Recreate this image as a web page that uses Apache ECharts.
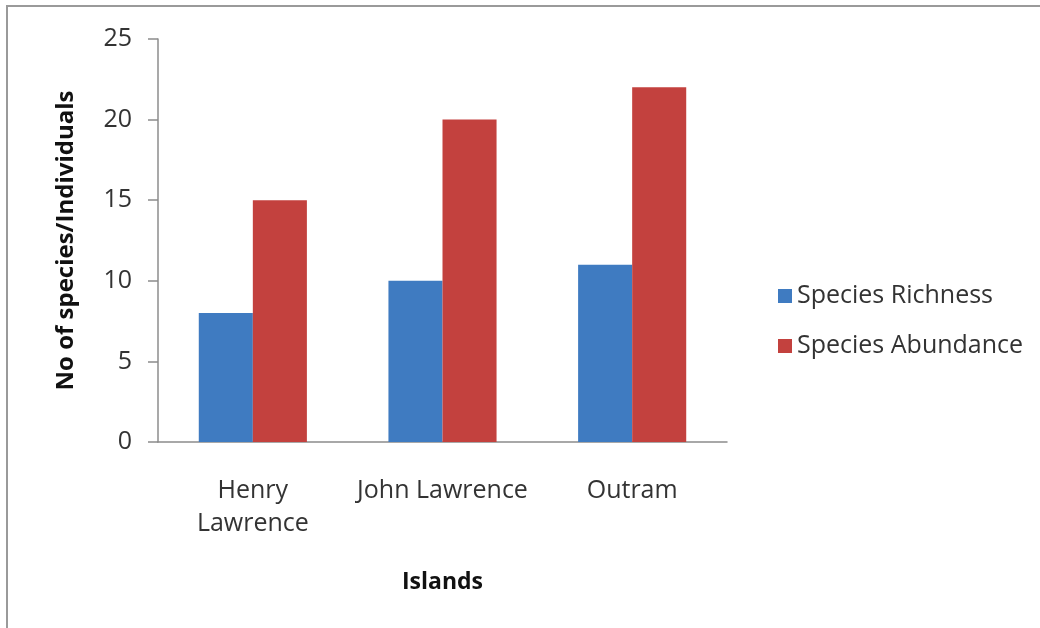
<!DOCTYPE html>
<html>
<head>
<meta charset="utf-8">
<script src="https://cdn.jsdelivr.net/npm/echarts@6/dist/echarts.min.js"></script>
<style>
  html, body { margin: 0; padding: 0; background: #fff; }
  #chart { width: 1040px; height: 628px; }
</style>
</head>
<body>
<div id="chart"></div>
<script>
// Islands surveyed and counts per island
const islands = ['Henry\nLawrence', 'John Lawrence', 'Outram'];
const speciesRichness = [8, 10, 11];
const speciesAbundance = [15, 20, 22];
const yTicks = { min: 0, max: 25, interval: 5 };

const FONT = '"Open Sans", "Noto Sans", sans-serif';
const AXIS_GRAY = '#8c8c8c';

const chart = echarts.init(document.getElementById('chart'), null, { renderer: 'canvas' });

chart.setOption({
  animation: false,
  backgroundColor: '#fff',
  textStyle: { fontFamily: FONT },
  graphic: [{
    type: 'rect',
    shape: { x: 7, y: 6, width: 1200, height: 800 },
    style: { fill: 'none', stroke: '#9a9a9a', lineWidth: 2 },
    silent: true
  }],
  grid: { left: 158, right: 313, top: 39, bottom: 186, containLabel: false },
  legend: {
    orient: 'vertical',
    left: 773,
    top: 276,
    itemWidth: 14,
    itemHeight: 14,
    itemGap: 20,
    icon: 'rect',
    textStyle: { fontFamily: FONT, fontSize: 25, color: '#333', lineHeight: 30 },
    data: ['Species Richness', 'Species Abundance']
  },
  xAxis: {
    type: 'category',
    data: islands,
    name: 'Islands',
    nameLocation: 'middle',
    nameGap: 129,
    nameTextStyle: { fontFamily: FONT, fontSize: 23, fontWeight: 'bold', color: '#111' },
    axisLine: { lineStyle: { color: AXIS_GRAY, width: 1.5 } },
    axisTick: { show: false },
    axisLabel: { fontFamily: FONT, fontSize: 25, color: '#333', margin: 32, lineHeight: 33, interval: 0 },
    splitLine: { show: false }
  },
  yAxis: {
    type: 'value',
    min: yTicks.min,
    max: yTicks.max,
    interval: yTicks.interval,
    name: 'No of species/Individuals',
    nameLocation: 'middle',
    nameGap: 80,
    nameRotate: 90,
    nameTextStyle: { fontFamily: FONT, fontSize: 24, fontWeight: 'bold', color: '#111' },
    axisLine: { show: true, lineStyle: { color: AXIS_GRAY, width: 1.5 } },
    axisTick: { show: true, length: 10, lineStyle: { color: AXIS_GRAY, width: 1.5 } },
    axisLabel: { fontFamily: FONT, fontSize: 25, color: '#333', margin: 26 },
    splitLine: { show: false }
  },
  series: [
    {
      name: 'Species Richness',
      type: 'bar',
      data: speciesRichness,
      barGap: '0%',
      barCategoryGap: '43%',
      itemStyle: { color: '#3F7BC1' }
    },
    {
      name: 'Species Abundance',
      type: 'bar',
      data: speciesAbundance,
      barGap: '0%',
      barCategoryGap: '43%',
      itemStyle: { color: '#C3413E' }
    }
  ]
});
</script>
</body>
</html>
